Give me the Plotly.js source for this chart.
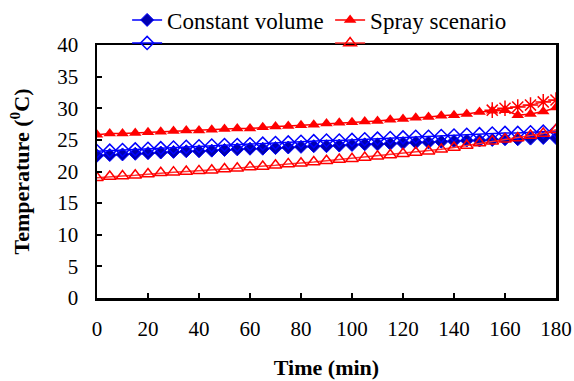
<!DOCTYPE html>
<html>
<head>
<meta charset="utf-8">
<script src="https://cdn.plot.ly/plotly-3.0.1.min.js"></script>
<style>html,body{margin:0;padding:0;background:#fff;}#chart{width:574px;height:381px;}</style>
</head>
<body>
<div id="chart"></div>
<script>
var timeMin = [0,5,10,15,20,25,30,35,40,45,50,55,60,65,70,75,80,85,90,95,100,105,110,115,120,125,130,135,140,145,150,155,160,165,170,175,180];
var constantVolume = [22.5,22.6,22.7,22.8,22.9,23.0,23.1,23.2,23.2,23.3,23.4,23.5,23.6,23.6,23.7,23.8,23.9,24.0,24.0,24.1,24.2,24.3,24.3,24.4,24.5,24.6,24.6,24.7,24.8,24.9,24.9,25.0,25.1,25.1,25.2,25.3,25.3];
var constantVolumeOpen = [23.2,23.3,23.4,23.5,23.6,23.7,23.8,23.9,24.0,24.1,24.2,24.2,24.3,24.4,24.5,24.6,24.7,24.8,24.9,24.9,25.0,25.1,25.2,25.3,25.4,25.5,25.5,25.6,25.7,25.8,25.9,26.0,26.1,26.1,26.2,26.3,26.4];
var sprayScenario = [25.8,26.0,26.0,26.1,26.2,26.3,26.4,26.5,26.5,26.6,26.7,26.8,26.8,27.0,27.1,27.2,27.3,27.4,27.6,27.7,27.8,27.9,28.0,28.2,28.3,28.5,28.6,28.8,28.9,29.1,29.4,29.6,29.7,28.9,29.1,29.5,30.1];
var sprayOpen = [19.0,19.2,19.3,19.4,19.6,19.8,19.9,20.0,20.1,20.2,20.4,20.5,20.7,20.8,21.0,21.2,21.3,21.5,21.7,21.9,22.0,22.2,22.4,22.6,22.8,23.0,23.2,23.5,23.8,24.1,24.5,24.8,25.1,25.3,25.7,26.0,26.6];
var starTime = [155,160,165,170,175,180];
var starValues = [29.7,30.0,30.2,30.5,31.0,31.3];
var legendNames = ['Constant volume','Spray scenario'];

var serif = 'Times New Roman';

var traces = [
  {x: timeMin, y: constantVolume, name: legendNames[0], mode: 'lines+markers', legend: 'legend',
   line: {color: '#0000FF', width: 1.5}, marker: {symbol: 'diamond', size: 10, color: '#0000B0', line: {color: '#0000FF', width: 1}}},
  {x: timeMin, y: sprayScenario, name: legendNames[1], mode: 'lines+markers', legend: 'legend',
   line: {color: '#FF0000', width: 1.5}, marker: {symbol: 'triangle-up', size: 11, color: '#FF0000'}},
  {x: timeMin, y: constantVolumeOpen, name: ' ', mode: 'lines+markers', legend: 'legend2',
   line: {color: '#0000FF', width: 1.5}, marker: {symbol: 'diamond-open', size: 10, color: '#0000FF', line: {width: 1.5}}},
  {x: timeMin, y: sprayOpen, name: ' ', mode: 'lines+markers', legend: 'legend2',
   line: {color: '#FF3333', width: 1.5}, marker: {symbol: 'triangle-up-open', size: 11, color: '#FF0000', line: {width: 1.5}}},
  {x: starTime, y: starValues, name: 'star', mode: 'lines+markers', showlegend: false,
   line: {color: '#FF0000', width: 1}, marker: {symbol: 'asterisk-open', size: 13, color: '#FF0000', line: {width: 1.5, color: '#FF0000'}}}
];

var layout = {
  width: 574, height: 381,
  margin: {l: 97, r: 18, t: 45, b: 83, autoexpand: false},
  paper_bgcolor: '#fff', plot_bgcolor: '#fff',
  font: {family: serif, size: 21, color: 'black'},
  showlegend: true,
  legend: {orientation: 'h', x: 0.0656, xanchor: 'left', y: 1.099, yanchor: 'middle',
    font: {family: serif, size: 23, color: 'black'}, bgcolor: 'rgba(0,0,0,0)', entrywidth: 158, traceorder: 'normal'},
  legend2: {orientation: 'h', x: 0.0656, xanchor: 'left', y: 1.008, yanchor: 'middle',
    font: {family: serif, size: 23, color: 'black'}, bgcolor: 'rgba(0,0,0,0)', entrywidth: 158, traceorder: 'normal'},
  xaxis: {range: [0, 180], dtick: 20, tick0: 0, ticks: 'inside', ticklen: 5, tickwidth: 2, tickcolor: '#000',
    showline: true, linewidth: 2.5, linecolor: '#000', mirror: true, showgrid: false, zeroline: false,
    ticklabelstandoff: 10, tickfont: {family: serif, size: 21, color: 'black'},
    title: {text: '<b>Time (min)</b>', font: {family: serif, size: 22, color: 'black'}, standoff: 20}},
  yaxis: {range: [0, 40], dtick: 5, tick0: 0, ticks: 'inside', ticklen: 5, tickwidth: 2, tickcolor: '#000',
    showline: true, linewidth: 2.5, linecolor: '#000', mirror: true, showgrid: false, zeroline: false,
    ticklabelstandoff: 12, tickfont: {family: serif, size: 21, color: 'black'},
    title: {text: '<b>Temperature (<sup>0</sup>C)</b>', font: {family: serif, size: 22, color: 'black'}, standoff: 22}}
};

Plotly.newPlot('chart', traces, layout, {displayModeBar: false, staticPlot: true});
</script>
</body>
</html>
